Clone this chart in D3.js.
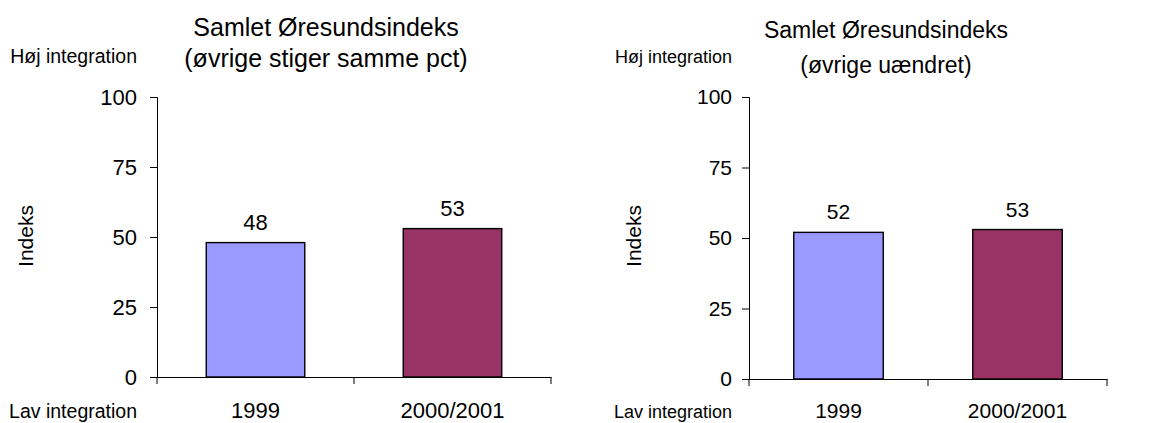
<!DOCTYPE html>
<html><head><meta charset="utf-8">
<script src="https://cdn.jsdelivr.net/npm/d3@7"></script>
<style>body{margin:0;background:#fff}svg{display:block}text{font-family:"Liberation Sans",Arial,sans-serif;fill:#000}</style>
</head><body>
<svg id="c" width="1161" height="423"></svg>
<script>
const categories = ["1999", "2000/2001"];
const valuesLeft = [48, 53];
const valuesRight = [52, 53];
const yTicks = [0, 25, 50, 75, 100];
const colors = ["#9999FF", "#993366"];
const titlesLeft = ["Samlet Øresundsindeks", "(øvrige stiger samme pct)"];
const titlesRight = ["Samlet Øresundsindeks", "(øvrige uændret)"];

const svg = d3.select("#c");

function panel(opt){
  const g = svg.append("g");
  const x = d3.scaleBand().domain(categories).range([opt.x0, opt.x1]).paddingInner(0.5).paddingOuter(0.25);
  const xb = d3.scaleBand().domain(categories).range([opt.x0, opt.x1]);
  const y = d3.scaleLinear().domain([0, 100]).range([opt.y0, opt.y1]);

  // y axis
  const ya = g.append("g").attr("transform", `translate(${opt.x0},0)`)
    .call(d3.axisLeft(y).tickValues(yTicks).tickSize(7).tickFormat(d3.format("d")));
  ya.select(".domain").attr("stroke", "#000");
  ya.selectAll(".tick line").attr("stroke", "#000");
  ya.selectAll(".tick text").attr("font-size", opt.fs).attr("x", -opt.tickPad)
    .attr("font-family", "Liberation Sans, Arial, sans-serif").attr("fill", "#000");

  // bars
  g.selectAll("rect").data(opt.values).join("rect")
    .attr("x", (d, i) => x(categories[i]))
    .attr("width", x.bandwidth())
    .attr("y", d => y(d))
    .attr("height", d => y(0) - y(d))
    .attr("fill", (d, i) => colors[i])
    .attr("stroke", "#000").attr("stroke-width", 1.4);

  // x axis
  const xa = g.append("g").attr("transform", `translate(0,${opt.y0})`)
    .call(d3.axisBottom(xb).tickSize(0).tickSizeOuter(0).tickFormat(""));
  xa.select(".domain").attr("stroke", "#000");
  g.selectAll("line.sep").data(d3.range(categories.length + 1)).join("line")
    .attr("class", "sep")
    .attr("x1", i => opt.x0 + i * xb.step()).attr("x2", i => opt.x0 + i * xb.step())
    .attr("y1", opt.y0).attr("y2", opt.y0 + 7).attr("stroke", "#000");

  // category labels
  g.selectAll("text.cat").data(categories).join("text").attr("class", "cat")
    .attr("x", d => x(d) + x.bandwidth() / 2).attr("y", 418)
    .attr("text-anchor", "middle").attr("font-size", opt.fs).text(d => d);

  // value labels
  g.selectAll("text.val").data(opt.values).join("text").attr("class", "val")
    .attr("x", (d, i) => x(categories[i]) + x.bandwidth() / 2).attr("y", d => y(d) - 13)
    .attr("text-anchor", "middle").attr("font-size", opt.fs).text(d => d);

  // titles
  g.selectAll("text.title").data(opt.titles).join("text").attr("class", "title")
    .attr("x", opt.tx).attr("y", (d, i) => opt.ty + i * opt.tdy)
    .attr("text-anchor", "middle").attr("font-size", opt.tfs).text(d => d);

  g.append("text").attr("x", opt.lx).attr("y", 63).attr("text-anchor", "end").attr("font-size", opt.lfs).text("Høj integration");
  g.append("text").attr("x", opt.lx).attr("y", 418).attr("text-anchor", "end").attr("font-size", opt.lfs).text("Lav integration");
  g.append("text").attr("transform", `translate(${opt.ix},236) rotate(-90)`).attr("text-anchor", "middle").attr("font-size", 21).text("Indeks");
}

panel({x0:157, x1:551, y0:377, y1:97, values:valuesLeft, titles:titlesLeft, tx:326, ty:36, tdy:31, tfs:25, fs:22, tickPad:20, lx:137, lfs:19.5, ix:33});
panel({x0:749, x1:1107, y0:379, y1:97, values:valuesRight, titles:titlesRight, tx:886, ty:38, tdy:35, tfs:23, fs:21, tickPad:17, lx:732, lfs:18, ix:641});
</script>
</body></html>
